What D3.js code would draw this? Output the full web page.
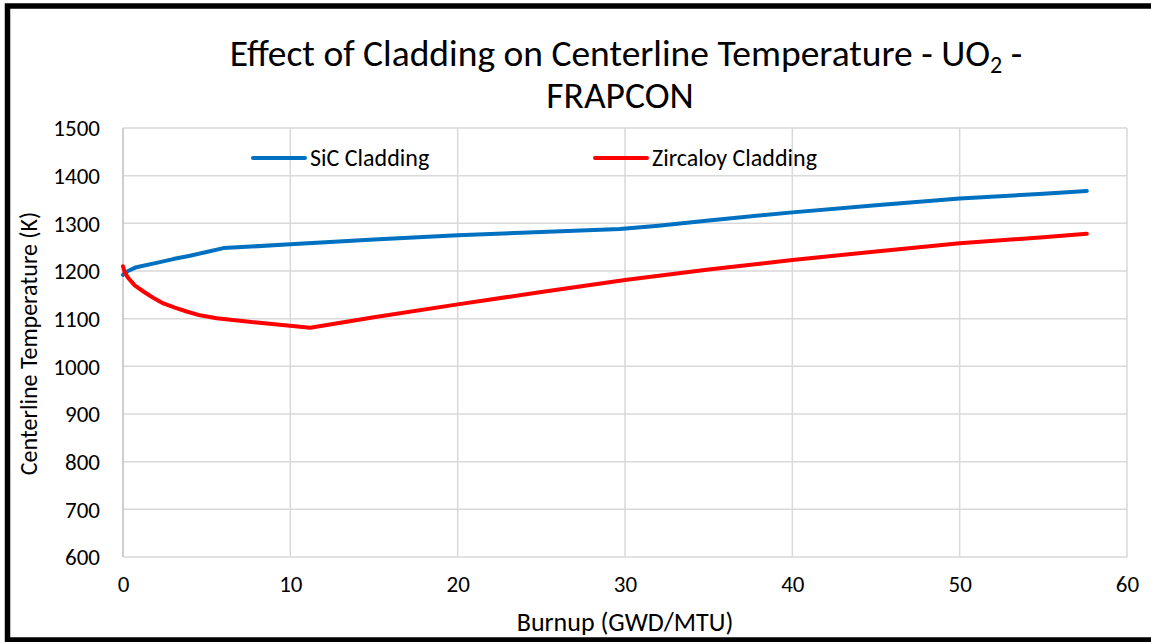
<!DOCTYPE html>
<html>
<head>
<meta charset="utf-8">
<script src="https://cdn.jsdelivr.net/npm/d3@7"></script>
<style>
  body { margin: 0; background: #fff; }
  text { font-family: Carlito, "Liberation Sans", Arial, sans-serif; fill: #000; }
</style>
</head>
<body>
<script>
// data
var sicBurnup = [0, 0.3, 0.8, 2, 3, 4, 5, 6, 10, 15, 20, 25, 29.7, 32, 35, 40, 45, 50, 55, 57.6];
var sicTemp   = [1192, 1200, 1208, 1217, 1225, 1232, 1240, 1248, 1256, 1266, 1275, 1282, 1288, 1295, 1306, 1323, 1338, 1352, 1362, 1368];

var zrBurnup = [0, 0.1, 0.32, 0.7, 1.22, 1.8, 2.41, 3.1, 3.8, 4.6, 5.6, 8, 11.18, 15, 20, 25, 30, 35, 40, 45, 50, 55, 57.6];
var zrTemp   = [1210, 1197, 1185, 1170, 1157, 1144, 1132, 1123, 1115, 1107, 1101, 1092, 1081, 1103, 1130, 1156, 1181, 1203, 1223, 1241, 1258, 1271, 1278];

var xTicks = [0, 10, 20, 30, 40, 50, 60];
var yTicks = [600, 700, 800, 900, 1000, 1100, 1200, 1300, 1400, 1500];

var seriesNames = ["SiC Cladding", "Zircaloy Cladding"];
var seriesColors = ["#0070C0", "#FF0000"];

var w = 1151, h = 642;
var plotLeft = 123, plotRight = 1127, plotTop = 128, plotBottom = 557;

var svg = d3.select("body").append("svg")
  .attr("width", w)
  .attr("height", h);

var x = d3.scaleLinear().domain([0, 60]).range([plotLeft, plotRight]);
var y = d3.scaleLinear().domain([600, 1500]).range([plotBottom, plotTop]);

// gridlines
svg.append("g").selectAll("line")
  .data(yTicks)
  .enter().append("line")
  .attr("x1", plotLeft).attr("x2", plotRight)
  .attr("y1", function(d) { return y(d); })
  .attr("y2", function(d) { return y(d); })
  .attr("stroke", "#d9d9d9")
  .attr("stroke-width", 1.5);

svg.append("g").selectAll("line")
  .data(xTicks)
  .enter().append("line")
  .attr("x1", function(d) { return x(d); })
  .attr("x2", function(d) { return x(d); })
  .attr("y1", plotTop).attr("y2", plotBottom)
  .attr("stroke", function(d) { return d === 0 ? "#bfbfbf" : "#d9d9d9"; })
  .attr("stroke-width", 1.5);

// axes (labels only)
var xAxis = svg.append("g")
  .attr("transform", "translate(0," + plotBottom + ")")
  .call(d3.axisBottom(x).tickValues(xTicks).tickFormat(d3.format("d")).tickSize(0).tickPadding(19));
var yAxis = svg.append("g")
  .attr("transform", "translate(" + plotLeft + ",0)")
  .call(d3.axisLeft(y).tickValues(yTicks).tickFormat(d3.format("d")).tickSize(0).tickPadding(23));
[xAxis, yAxis].forEach(function(a) {
  a.select(".domain").remove();
  a.selectAll("text")
    .attr("font-family", "Carlito, 'Liberation Sans', Arial, sans-serif")
    .attr("font-size", 23)
    .attr("fill", "#000");
});
yAxis.selectAll("text").attr("dy", "0.34em");

// lines
var line = d3.line()
  .x(function(d) { return x(d[0]); })
  .y(function(d) { return y(d[1]); });

var sicData = sicBurnup.map(function(b, i) { return [b, sicTemp[i]]; });
var zrData = zrBurnup.map(function(b, i) { return [b, zrTemp[i]]; });

[sicData, zrData].forEach(function(data, i) {
  svg.append("path")
    .datum(data)
    .attr("d", line)
    .attr("fill", "none")
    .attr("stroke", seriesColors[i])
    .attr("stroke-width", 4)
    .attr("stroke-linecap", "round")
    .attr("stroke-linejoin", "round");
});

// legend
var legendX = [253, 595];
var legend = svg.append("g").selectAll("g")
  .data(seriesNames)
  .enter().append("g")
  .attr("transform", function(d, i) { return "translate(" + legendX[i] + ",158)"; });
legend.append("line")
  .attr("x1", 0).attr("x2", 52)
  .attr("stroke", function(d, i) { return seriesColors[i]; })
  .attr("stroke-width", 4)
  .attr("stroke-linecap", "round");
legend.append("text")
  .attr("x", 57)
  .attr("dy", "0.34em")
  .attr("font-size", 24)
  .text(function(d) { return d; });

// title
var title = svg.append("text")
  .attr("x", 626)
  .attr("y", 66)
  .attr("text-anchor", "middle")
  .attr("font-size", 37.5);
title.append("tspan").text("Effect of Cladding on Centerline Temperature - UO");
title.append("tspan").attr("font-size", 24).attr("dy", 7).text("2");
title.append("tspan").attr("dy", -7).text(" -");

svg.append("text")
  .attr("x", 620)
  .attr("y", 108)
  .attr("text-anchor", "middle")
  .attr("font-size", 37.5)
  .text("FRAPCON");

// axis titles
svg.append("text")
  .attr("x", 625)
  .attr("y", 631)
  .attr("text-anchor", "middle")
  .attr("font-size", 26)
  .text("Burnup (GWD/MTU)");

svg.append("text")
  .attr("transform", "translate(37," + ((plotTop + plotBottom) / 2 + 1) + ") rotate(-90)")
  .attr("text-anchor", "middle")
  .attr("font-size", 24)
  .text("Centerline Temperature (K)");

// outer frame
svg.append("rect")
  .attr("x", 7.5).attr("y", 6)
  .attr("width", 1160).attr("height", 634)
  .attr("fill", "none")
  .attr("stroke", "#000")
  .attr("stroke-width", 5.5);
</script>
</body>
</html>
